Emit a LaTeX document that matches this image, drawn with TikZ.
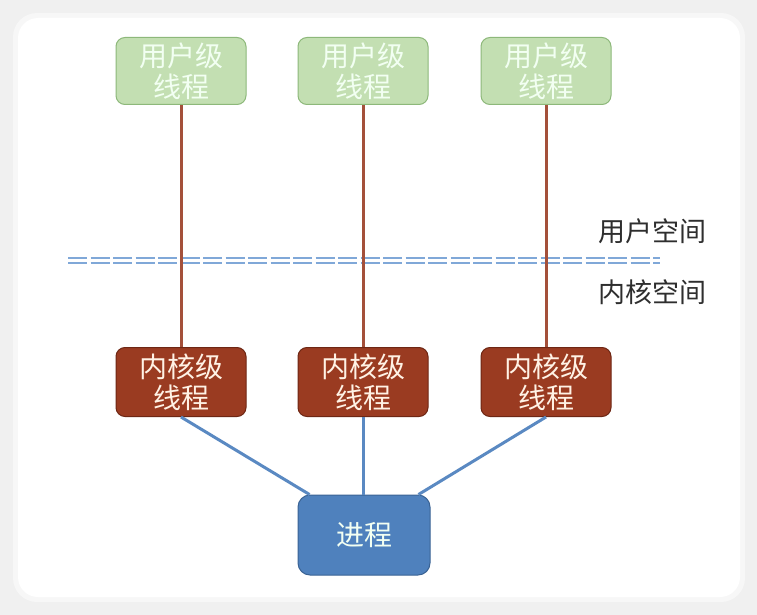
\documentclass[tikz,border=0pt]{standalone}
\usepackage{fontspec}
\usepackage{tikz}
\usetikzlibrary{calc}
\newfontfamily\cjk{Noto Sans CJK SC}
\definecolor{userfill}{HTML}{C3DFB2}
\definecolor{userdraw}{HTML}{8DB87A}
\definecolor{kernfill}{HTML}{9A3B21}
\definecolor{kerndraw}{HTML}{6E2714}
\definecolor{procfill}{HTML}{4F81BD}
\definecolor{procdraw}{HTML}{3A6394}
\definecolor{brownline}{HTML}{A4503A}
\definecolor{blueline}{HTML}{5A89C2}
\definecolor{dashblue}{HTML}{80A8D8}
\tikzset{
  userbox/.style={draw=userdraw,fill=userfill,line width=1pt,rounded corners=9pt,minimum width=130pt,minimum height=67pt,text=white!95!green,align=center,font=\cjk\fontsize{28pt}{31pt}\selectfont},
  kernbox/.style={userbox,draw=kerndraw,fill=kernfill,text=white!90!orange,minimum height=69pt},
  procbox/.style={userbox,draw=procdraw,fill=procfill,minimum width=132pt,minimum height=80pt,rounded corners=12pt},
  uline/.style={brownline,line width=3pt},
  kline/.style={blueline,line width=3pt},
  spacelbl/.style={font=\cjk\fontsize{27pt}{30pt}\selectfont,text=black!82}
}
\begin{document}
\begin{tikzpicture}[x=1pt,y=-1pt]
	\useasboundingbox (0,0) rectangle (757,615);
	\fill[black!6] (0,0) rectangle (757,615);
	\fill[black!3,rounded corners=24pt] (13,13) rectangle (745,602);
	\fill[white,rounded corners=20pt] (18,18) rectangle (740,597);
	% user threads
	\foreach \i/\x in {1/181,2/363,3/546}{
		\node[userbox] (u\i) at (\x,71) {用户级\\线程};
		\node[kernbox] (k\i) at (\x,382) {内核级\\线程};
	}
	\node[procbox] (p) at (364,535) {进程};
	% dashed boundary
	\draw[dashblue,line width=2pt,dash pattern=on 19pt off 3.5pt] (68,257.5) -- (660,257.5) (68,262.5) -- (660,262.5);
	\node[spacelbl,anchor=east] (us) at (710,231) {用户空间};
	\node[spacelbl,anchor=east] (ks) at (710,292) {内核空间};
	\foreach \i in {1,2,3}
		\draw[uline] (u\i) -- (k\i);
	\draw[kline] (k1.south) -- ($(p.north west)+(12,0)$);
	\draw[kline] (k2.south) -- (k2.south |- p.north);
	\draw[kline] (k3.south) -- ($(p.north east)+(-12,0)$);
\end{tikzpicture}
\end{document}
